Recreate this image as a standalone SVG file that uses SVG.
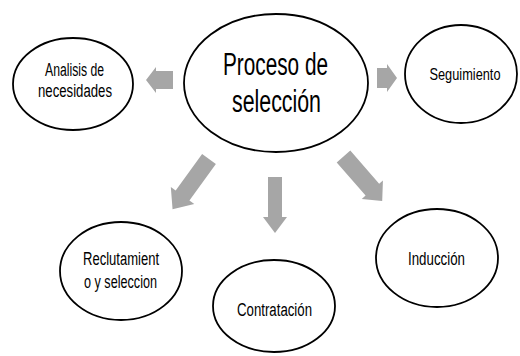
<svg xmlns="http://www.w3.org/2000/svg" width="520" height="356" viewBox="0 0 520 356">
<style>
.node ellipse{fill:#fff;stroke:#000;stroke-width:1.8}
.node text{font-family:"Liberation Sans",Arial,sans-serif;fill:#000;text-anchor:middle}
.small{font-size:18px}
.big{font-size:31px}
.arrow{fill:#a6a6a6;stroke:none}
</style>
<rect width="520" height="356" fill="#fff"/>
<g id="connectors">
<polygon class="arrow" points="173,71 156,71 156,67 146,80 156,93 156,89 173,89"/>
<polygon class="arrow" points="377,68 387,68 387,64 397,78 387,92 387,88 377,88"/>
<polygon class="arrow" points="268,177 282,177 282,217 287,217 275,233 263,217 268,217"/>
<polygon class="arrow" transform="translate(209,159) rotate(126)" points="0,-8.5 45,-8.5 45,-14.5 62,0 45,14.5 45,8.5 0,8.5"/>
<polygon class="arrow" transform="translate(343.5,156.5) rotate(49)" points="0,-9 44,-9 44,-14 59,0 44,14 44,9 0,9"/>
</g>
<g id="proceso" class="node">
<ellipse cx="276" cy="83" rx="92" ry="69"/>
<text class="big" x="275.5" y="75" textLength="105" lengthAdjust="spacingAndGlyphs">Proceso de</text>
<text class="big" x="276.5" y="112" textLength="89" lengthAdjust="spacingAndGlyphs">selección</text>
</g>
<g id="analisis" class="node">
<ellipse cx="73" cy="84" rx="60" ry="46"/>
<text class="small" x="74.5" y="76" textLength="59" lengthAdjust="spacingAndGlyphs">Analisis de</text>
<text class="small" x="75" y="97" textLength="74" lengthAdjust="spacingAndGlyphs">necesidades</text>
</g>
<g id="seguimiento" class="node">
<ellipse cx="461" cy="74" rx="56" ry="49"/>
<text x="465" y="80" font-size="16.5" textLength="71" lengthAdjust="spacingAndGlyphs">Seguimiento</text>
</g>
<g id="reclutamiento" class="node">
<ellipse cx="121" cy="271" rx="61" ry="49"/>
<text class="small" x="121" y="265" textLength="76" lengthAdjust="spacingAndGlyphs">Reclutamient</text>
<text class="small" x="120.5" y="288" textLength="73" lengthAdjust="spacingAndGlyphs">o y seleccion</text>
</g>
<g id="contratacion" class="node">
<ellipse cx="274" cy="306" rx="61" ry="46"/>
<text class="small" x="274.5" y="316" textLength="75" lengthAdjust="spacingAndGlyphs">Contratación</text>
</g>
<g id="induccion" class="node">
<ellipse cx="437" cy="258" rx="61" ry="49"/>
<text class="small" x="436.5" y="265" textLength="57" lengthAdjust="spacingAndGlyphs">Inducción</text>
</g>
</svg>
